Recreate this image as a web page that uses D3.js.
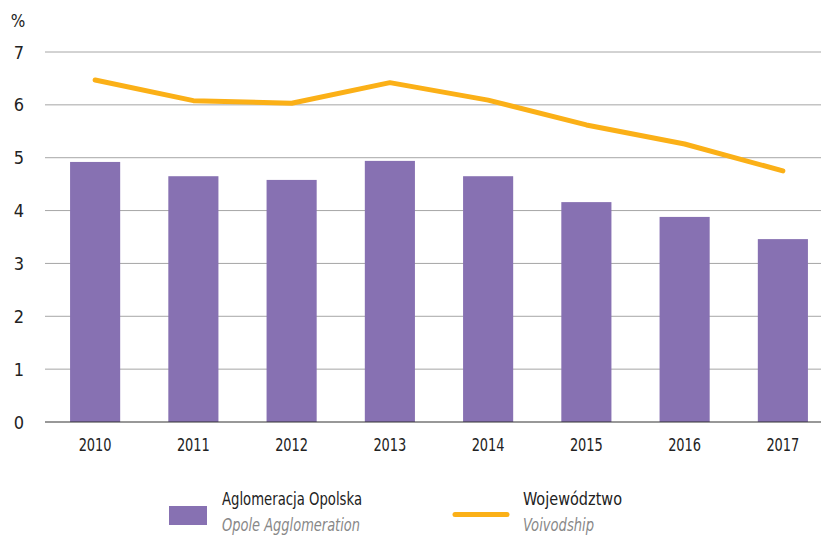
<!DOCTYPE html>
<html>
<head>
<meta charset="utf-8">
<script src="https://cdn.jsdelivr.net/npm/d3@7"></script>
<style>
body { margin:0; background:#fff; }
text { font-family: "DejaVu Sans Condensed", Roboto, sans-serif; }
</style>
</head>
<body>
<div id="chart"></div>
<script>
var years = ["2010","2011","2012","2013","2014","2015","2016","2017"];
var aglomeracja = [4.92, 4.65, 4.58, 4.94, 4.65, 4.16, 3.88, 3.46];
var wojewodztwo = [6.47, 6.08, 6.03, 6.42, 6.09, 5.62, 5.26, 4.75];
var yTicks = [0,1,2,3,4,5,6,7];

var w = 821, h = 536;
var svg = d3.select("#chart").append("svg").attr("width", w).attr("height", h);

var x = d3.scaleBand().domain(years).range([46, 832]).paddingInner(0.49).paddingOuter(0.245);
var y = d3.scaleLinear().domain([0, 7]).range([422, 52]);

// gridlines
svg.selectAll("line.grid").data(yTicks.filter(function(d){ return d > 0; }))
  .enter().append("line")
  .attr("x1", 45).attr("x2", w)
  .attr("y1", function(d){ return y(d); }).attr("y2", function(d){ return y(d); })
  .attr("stroke", "#a6a6a6").attr("stroke-width", 1);

// y labels
svg.selectAll("text.ytick").data(yTicks).enter().append("text")
  .attr("x", 19).attr("y", function(d){ return y(d) + 6.5; })
  .attr("text-anchor", "middle").attr("font-size", 18).attr("fill", "#222")
  .text(function(d){ return d; });
svg.append("text").attr("x", 18).attr("y", 27).attr("text-anchor", "middle")
  .attr("font-size", 17).attr("fill", "#222").text("%");

// bars
svg.selectAll("rect.bar").data(aglomeracja).enter().append("rect")
  .attr("x", function(d,i){ return x(years[i]); })
  .attr("width", x.bandwidth())
  .attr("y", function(d){ return y(d); })
  .attr("height", function(d){ return y(0) - y(d); })
  .attr("fill", "#8771b2");

// axis line
svg.append("line").attr("x1", 45).attr("x2", w).attr("y1", y(0)).attr("y2", y(0))
  .attr("stroke", "#333").attr("stroke-width", 1.2);

// x labels
svg.selectAll("text.xtick").data(years).enter().append("text")
  .attr("x", function(d){ return x(d) + x.bandwidth()/2; })
  .attr("y", 451).attr("text-anchor", "middle").attr("font-size", 17).attr("fill", "#222")
  .attr("textLength", 33).attr("lengthAdjust", "spacingAndGlyphs")
  .text(function(d){ return d; });

// line
var line = d3.line()
  .x(function(d,i){ return x(years[i]) + x.bandwidth()/2; })
  .y(function(d){ return y(d); });
svg.append("path").datum(wojewodztwo).attr("d", line)
  .attr("fill", "none").attr("stroke", "#fbb017").attr("stroke-width", 5)
  .attr("stroke-linecap", "round").attr("stroke-linejoin", "round");

// legend
function label(xp, yp, txt, len, italic) {
  svg.append("text").attr("x", xp).attr("y", yp).attr("font-size", 18)
    .attr("font-style", italic ? "italic" : "normal")
    .attr("fill", italic ? "#888" : "#222")
    .attr("textLength", len).attr("lengthAdjust", "spacingAndGlyphs")
    .text(txt);
}
svg.append("rect").attr("x", 169).attr("y", 506).attr("width", 38).attr("height", 19).attr("fill", "#8771b2");
label(222, 505, "Aglomeracja Opolska", 140, false);
label(222, 531, "Opole Agglomeration", 138, true);

svg.append("line").attr("x1", 455).attr("x2", 507).attr("y1", 514.5).attr("y2", 514.5)
  .attr("stroke", "#fbb017").attr("stroke-width", 5).attr("stroke-linecap", "round");
label(523, 505, "Województwo", 99, false);
label(523, 531, "Voivodship", 71, true);
</script>
</body>
</html>
